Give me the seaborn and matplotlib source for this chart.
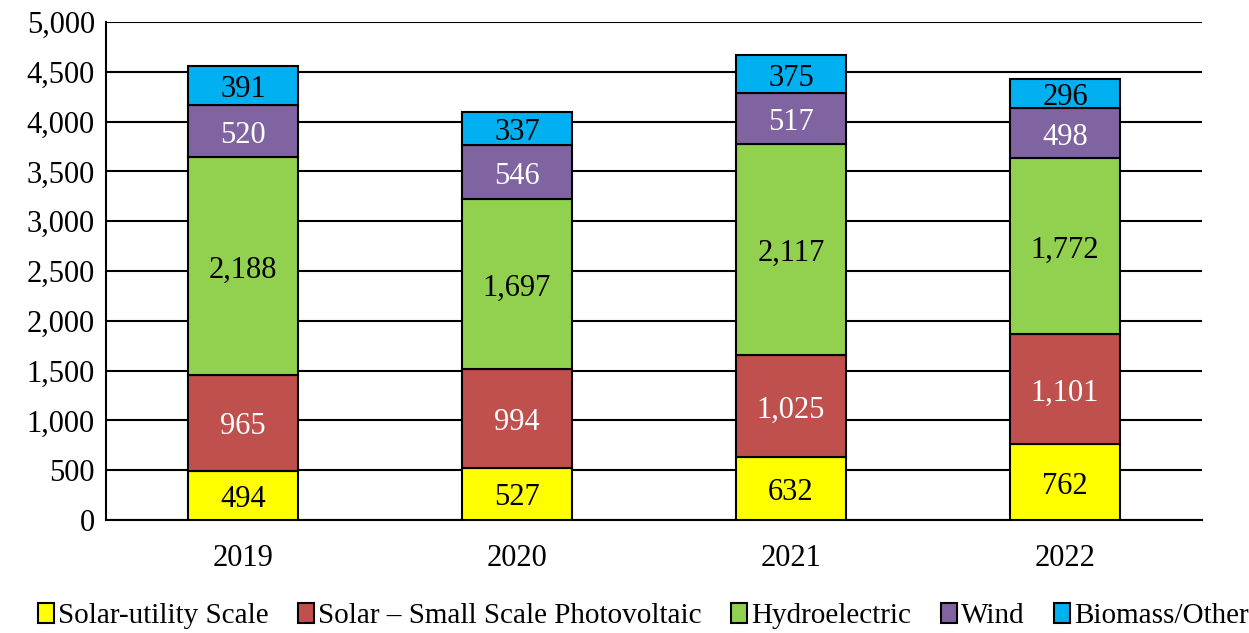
import matplotlib
matplotlib.use("Agg")
import matplotlib.pyplot as plt
import seaborn as sns
import pandas as pd
import numpy as np
from matplotlib.patches import Patch

years = ["2019", "2020", "2021", "2022"]
solar_utility = [494, 527, 632, 762]
solar_small = [965, 994, 1025, 1101]
hydro = [2188, 1697, 2117, 1772]
wind = [520, 546, 517, 498]
biomass = [391, 337, 375, 296]

series = [
    ("Solar-utility Scale", solar_utility, "#FFFF00", "black"),
    ("Solar \u2013 Small Scale Photovoltaic", solar_small, "#C0504D", "white"),
    ("Hydroelectric", hydro, "#92D050", "black"),
    ("Wind", wind, "#8064A2", "white"),
    ("Biomass/Other", biomass, "#00B0F0", "black"),
]

sns.set_theme(style="white")
plt.rcParams["font.family"] = ["Liberation Serif", "DejaVu Serif"]
plt.rcParams["text.color"] = "black"
plt.rcParams["xtick.color"] = "black"
plt.rcParams["ytick.color"] = "black"
plt.rcParams["axes.labelcolor"] = "black"

fig = plt.figure(figsize=(12.49, 6.33), dpi=100)
ax = fig.add_axes([106/1249, 1-520/633, (1202-106)/1249, (520-22)/633])

bottom = np.zeros(len(years))
for name, vals, color, tcol in series:
    df = pd.DataFrame({"year": years, "value": vals})
    sns.barplot(data=df, x="year", y="value", ax=ax, color=color, width=0.4,
                bottom=bottom, edgecolor="black", linewidth=1.5, saturation=1,
                zorder=3)
    for i, v in enumerate(vals):
        ax.annotate(f"{v:,}", xy=(i, bottom[i] + v/2), xytext=(0, -3),
                    textcoords="offset points", ha="center", va="center",
                    fontsize=22, color=tcol, zorder=4)
    bottom = bottom + np.array(vals)

ax.set_xlim(-0.5, 3.5)
ax.set_ylim(0, 5000)
ax.set_yticks(np.arange(0, 5001, 500))
ax.set_yticklabels([f"{t:,}" for t in range(0, 5001, 500)], fontsize=22)
ax.tick_params(axis="x", labelsize=22, pad=17, length=0, colors="black")
ax.tick_params(axis="y", length=0, pad=8, colors="black")
ax.set_xlabel("")
ax.set_ylabel("")
ax.grid(axis="y", color="black", linewidth=1.5, zorder=0)
ax.set_axisbelow(True)
for s in ["top", "right"]:
    ax.spines[s].set_visible(False)
for s in ["left", "bottom"]:
    ax.spines[s].set_color("black")
    ax.spines[s].set_linewidth(1.5)

handles = [Patch(facecolor=c, edgecolor="black", linewidth=1.5, label=n) for n, _, c, _ in series]
fig.legend(handles=handles, loc="center", bbox_to_anchor=(0.515, 1-616/633),
           ncol=5, frameon=False, fontsize=21, handlelength=0.55, handleheight=0.7,
           handletextpad=0.15, columnspacing=1.0)

fig.savefig("out.png", dpi=100)
